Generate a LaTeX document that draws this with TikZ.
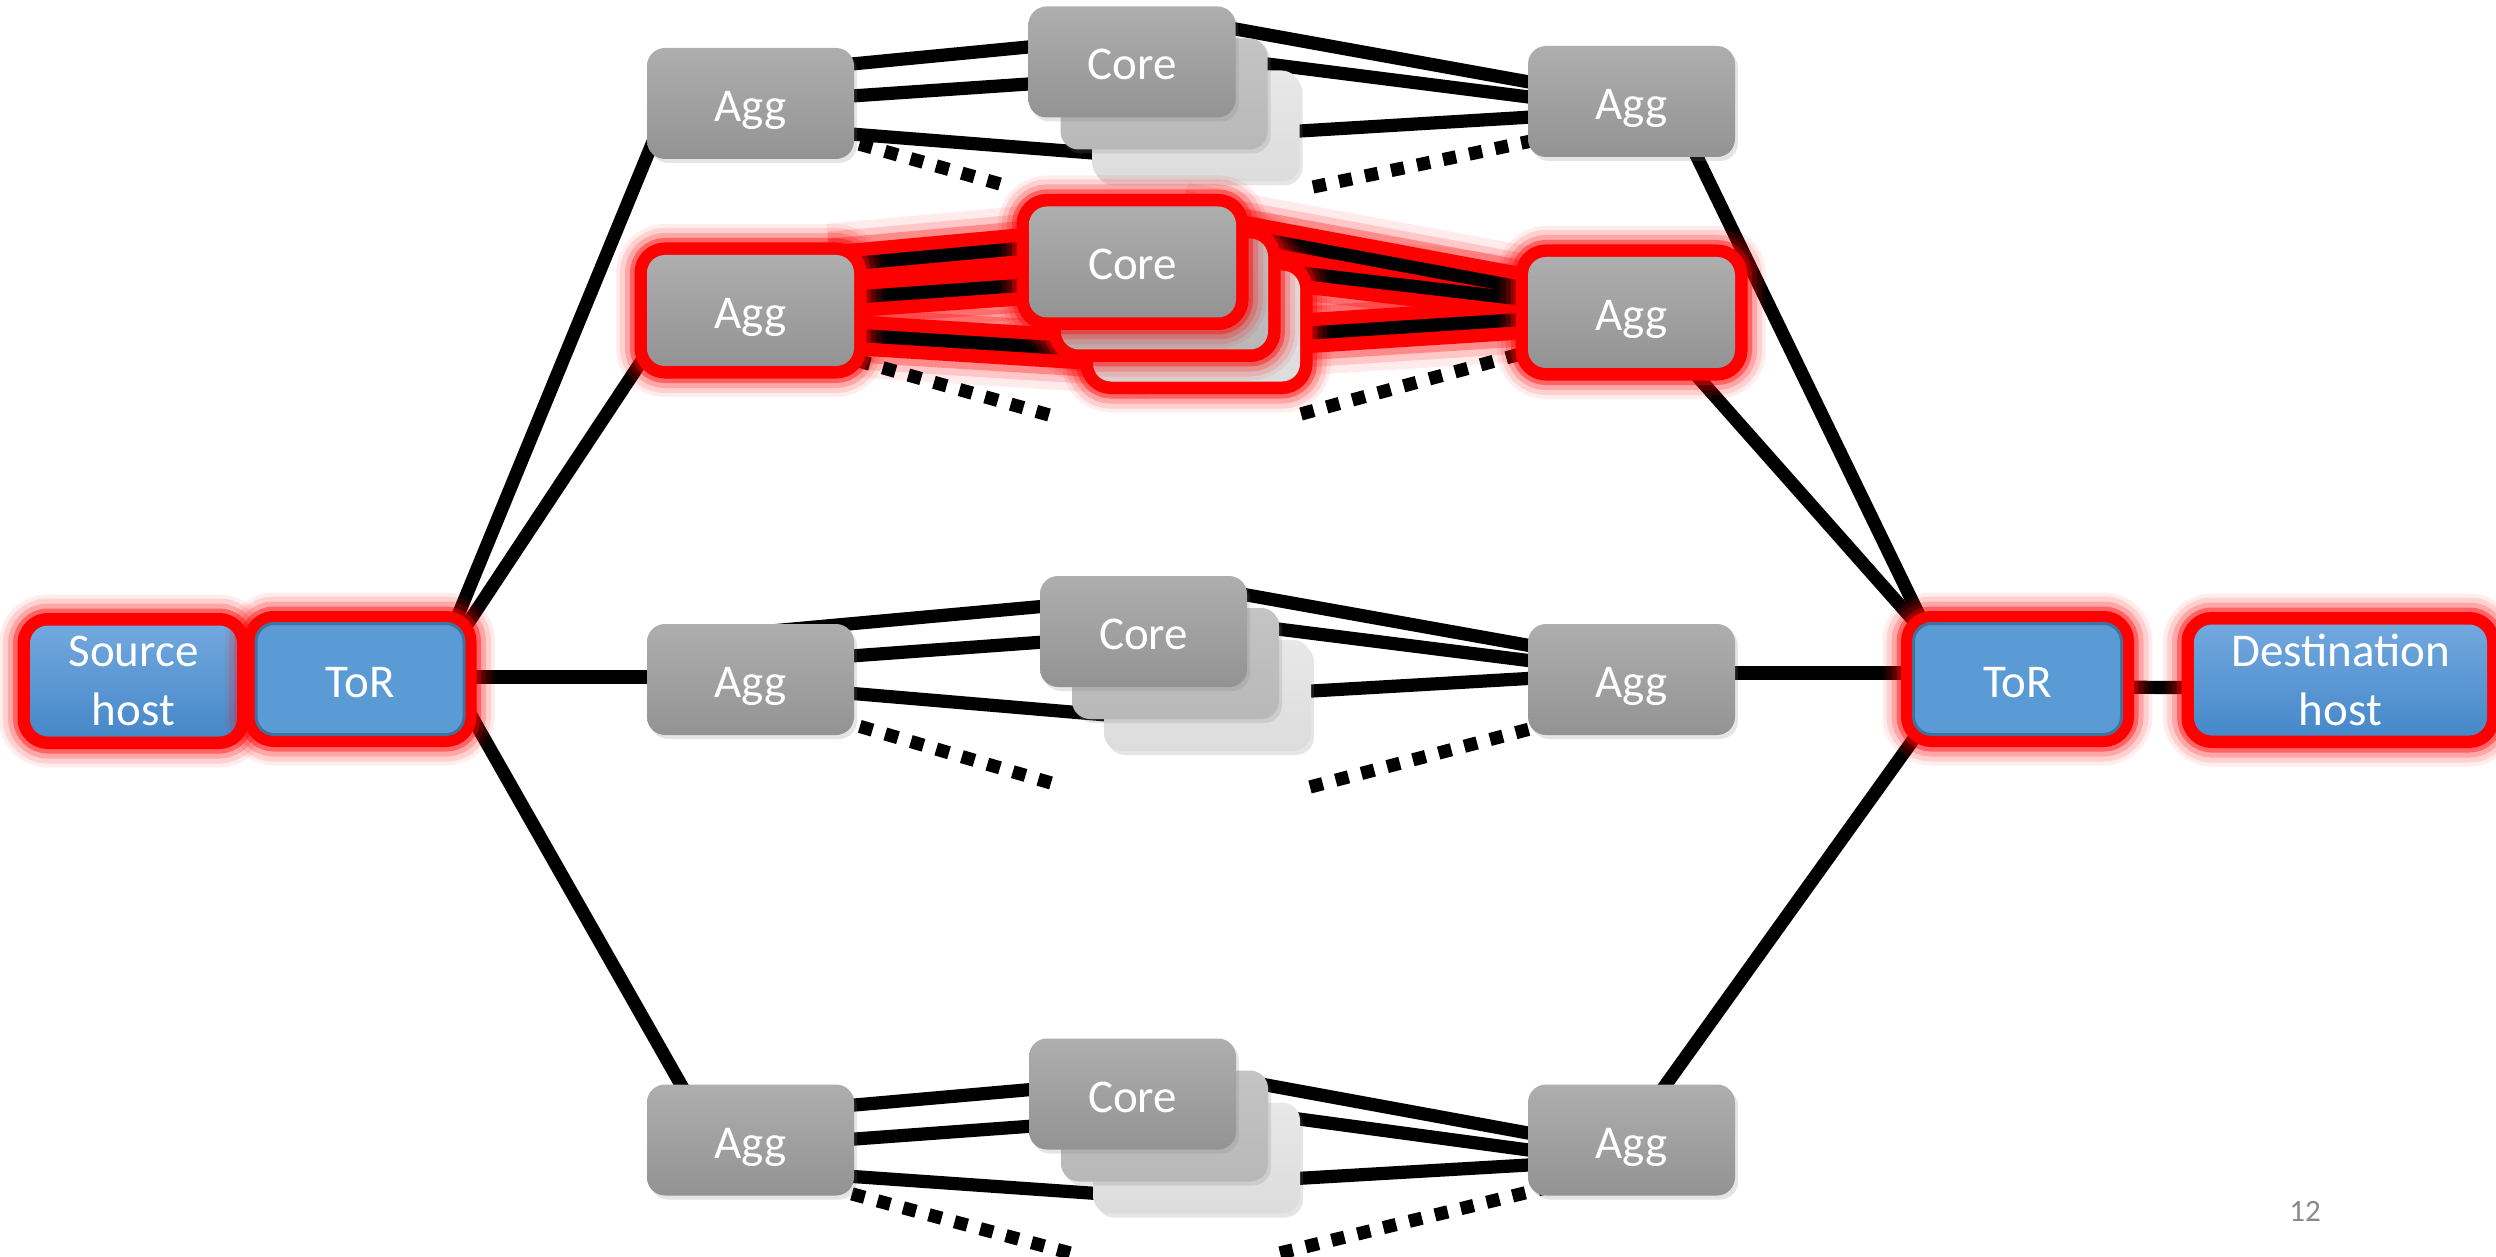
\documentclass[tikz,border=0pt]{standalone}
\usepackage{fontspec}
\setmainfont{Carlito}
\usetikzlibrary{calc,shadows}
\pgfdeclarelayer{paper}
\pgfdeclarelayer{lglow}
\pgfdeclarelayer{links}
\pgfsetlayers{paper,lglow,links,main}
\definecolor{aggtop}{RGB}{174,174,174}
\definecolor{aggbot}{RGB}{147,147,147}
\definecolor{midtop}{RGB}{196,196,196}
\definecolor{midbot}{RGB}{184,184,184}
\definecolor{backtop}{RGB}{232,232,232}
\definecolor{backbot}{RGB}{220,220,220}
\definecolor{torfill}{RGB}{91,155,213}
\definecolor{torline}{RGB}{65,113,156}
\definecolor{hosttop}{RGB}{114,168,222}
\definecolor{hostbot}{RGB}{70,136,201}
\definecolor{glowred}{RGB}{255,0,0}
\definecolor{pagegray}{RGB}{137,137,137}
\newcommand\rowtwopaths[1]{%
  \draw[#1] ($(aL2.center)+(80,-44.9)$) -- ($(c2a.center)+(-52.5,-19)$);
  \draw[#1] ($(aL2.center)+(80,-11.7)$) -- ($(c2a.center)+(-52.5,19.3)$);
  \draw[#1] ($(aL2.center)+(80,23.2)$) -- ($(c2c.center)+(-46.5,27.6)$);
  \draw[#1] ($(c2a.center)+(47.5,-38)$) -- ($(aR2.center)+(0,-4.5)$);
  \draw[#1] ($(c2b.center)+(55.5,-30.4)$) -- ($(aR2.center)+(0,-0.5)$);
  \draw[#1] ($(c2c.center)+(53.5,10.8)$) -- ($(aR2.center)+(0,0)$);
}
\begin{document}
\begin{tikzpicture}[x=0.5pt,y=-0.5pt,
  box/.style={rectangle, rounded corners=9pt, inner sep=0pt, minimum height=55.5pt,
    minimum width=103.5pt, text=white, align=center, font=\fontsize{23.5}{29.5}\selectfont},
  oneline/.style={text height=18pt, text depth=0pt},
  softshadow/.style={drop shadow={opacity=0.2, shadow xshift=1.5pt, shadow yshift=-2pt}},
  redglow/.style={
    preaction={draw=glowred, draw opacity=0.07, line width=31pt},
    preaction={draw=glowred, draw opacity=0.12, line width=27pt},
    preaction={draw=glowred, draw opacity=0.2, line width=22pt},
    preaction={draw=glowred, draw opacity=0.4, line width=17pt},
    preaction={draw=glowred, line width=12.5pt}},
  aggbox/.style={box, oneline, top color=aggtop, bottom color=aggbot},
  corefront/.style={box, oneline, top color=aggtop, bottom color=aggbot},
  coremid/.style={box, top color=midtop, bottom color=midbot},
  coreback/.style={box, top color=backtop, bottom color=backbot},
  torbox/.style={box, oneline, minimum width=104pt, fill=torfill, draw=torline, line width=1.5pt},
  hostbox/.style={box, top color=hosttop, bottom color=hostbot},
  link/.style={line width=6.6pt, black},
  dots/.style={line width=6.6pt, black, dash pattern=on 6.6pt off 6.7pt},
  lg1/.style={line width=42pt, glowred, opacity=0.08},
  lg2/.style={line width=34pt, glowred, opacity=0.15},
  lg3/.style={line width=27pt, glowred, opacity=0.3},
  lg4/.style={line width=20pt, glowred},
]
\begin{pgfonlayer}{paper}
\fill[white] (0,0) rectangle (2496,1257);
\end{pgfonlayer}
\useasboundingbox (0,0) rectangle (2496,1257);

% ---------- cores (back to front) ----------
\node[coreback, softshadow] (c1c) at (1196,126) {};
\node[coremid, softshadow] (c1b) at (1164,94) {};
\node[corefront, softshadow] (c1a) at (1132,62) {Core};

\node[coreback, redglow] (c2c) at (1196.5,326) {};
\node[coremid, redglow] (c2b) at (1164.5,294) {};
\node[corefront, redglow] (c2a) at (1132.5,262) {Core};

\node[coreback, softshadow] (c3c) at (1207.5,695.5) {};
\node[coremid, softshadow] (c3b) at (1175.5,663.5) {};
\node[corefront, softshadow] (c3a) at (1143.5,631.5) {Core};

\node[coreback, softshadow] (c4c) at (1196.5,1158) {};
\node[coremid, softshadow] (c4b) at (1164.5,1126) {};
\node[corefront, softshadow] (c4a) at (1132.5,1094) {Core};

% ---------- aggs ----------
\node[aggbox, softshadow] (aL1) at (750.5,103.5) {Agg};
\node[aggbox, softshadow] (aR1) at (1631.5,101.5) {Agg};
\node[aggbox, redglow] (aL2) at (750.5,310.5) {Agg};
\node[aggbox, redglow] (aR2) at (1631.5,312.5) {Agg};
\node[aggbox, softshadow] (aL3) at (750.5,679.5) {Agg};
\node[aggbox, softshadow] (aR3) at (1631.5,679.5) {Agg};
\node[aggbox, softshadow] (aL4) at (750.5,1140) {Agg};
\node[aggbox, softshadow] (aR4) at (1631.5,1140) {Agg};

% ---------- hosts and ToRs ----------
\node[hostbox, redglow] (src) at (133.5,681) {Source\\host};
\node[torbox, redglow] (torL) at (360,679) {ToR};
\node[torbox, redglow] (torR) at (2017.5,679) {ToR};
\node[hostbox, redglow, minimum width=146.5pt] (dst) at (2340.5,680) {Destination\\host};

\node[text=pagegray, font=\fontsize{15.5}{18}\selectfont] (pg) at (2305,1211) {12};

% free ends of dotted links
\coordinate (dL1) at (1000,184);
\coordinate (dR1) at (1313,187);
\coordinate (dL2) at (1049,415);
\coordinate (dR2) at (1301,414);
\coordinate (dL3) at (1051,783);
\coordinate (dR3) at (1310,787);
\coordinate (dL4) at (1070,1253);
\coordinate (dR4) at (1280,1253);

% ---------- glow of highlighted links ----------
\begin{pgfonlayer}{lglow}
  \rowtwopaths{lg1}
  \rowtwopaths{lg2}
  \rowtwopaths{lg3}
  \rowtwopaths{lg4}
\end{pgfonlayer}

% ---------- links ----------
\begin{pgfonlayer}{links}
  % row 1
  \draw[link] ($(aL1.center)+(49.5,-34.5)$) -- ($(c1a.center)+(-52,-20)$);
  \draw[link] ($(aL1.center)+(49.5,-4)$) -- ($(c1a.center)+(-52,18.5)$);
  \draw[link] ($(aL1.center)+(49.5,26.5)$) -- ($(c1c.center)+(-46,31.5)$);
  \draw[link] ($(c1a.center)+(48,-43)$) -- ($(aR1.center)+(0,-1)$);
  \draw[link] ($(c1b.center)+(56,-36)$) -- ($(aR1.center)+(0,8.5)$);
  \draw[link] ($(c1c.center)+(54,8)$) -- ($(aR1.center)+(0,9.5)$);
  % row 2
  \rowtwopaths{link}
  % row 3
  \draw[link] ($(aL3.center)+(9.5,-47.5)$) -- ($(c3a.center)+(-63.5,-28.5)$);
  \draw[link] ($(aL3.center)+(49.5,-19.8)$) -- ($(c3a.center)+(-63.5,7.9)$);
  \draw[link] ($(aL3.center)+(49.5,9.5)$) -- ($(c3c.center)+(-57.5,23.2)$);
  \draw[link] ($(c3a.center)+(46.5,-46.7)$) -- ($(aR3.center)+(0,-15.7)$);
  \draw[link] ($(c3b.center)+(54.5,-40.5)$) -- ($(aR3.center)+(0,-6)$);
  \draw[link] ($(c3c.center)+(52.5,-1.5)$) -- ($(aR3.center)+(0,-7)$);
  % row 4
  \draw[link] ($(aL4.center)+(49.5,-30.2)$) -- ($(c4a.center)+(-52.5,-8.8)$);
  \draw[link] ($(aL4.center)+(49.5,3)$) -- ($(c4a.center)+(-52.5,28.6)$);
  \draw[link] ($(aL4.center)+(49.5,32.8)$) -- ($(c4c.center)+(-46.5,39.2)$);
  \draw[link] ($(c4a.center)+(57.5,-23)$) -- ($(aR4.center)+(0,12)$);
  \draw[link] ($(c4c.center)+(53.5,-45.6)$) -- ($(aR4.center)+(0,23.9)$);
  \draw[link] ($(c4c.center)+(53.5,23.2)$) -- ($(aR4.center)+(0,19)$);
  % ToR to Agg
  \draw[link] ($(torL.center)+(78,-15)$) -- ($(aL1.center)+(-86.5,11.5)$);
  \draw[link] ($(torL.center)+(81,-15)$) -- ($(aL2.center)+(-95,29.5)$);
  \draw[link] ($(torL.center)+(80,-2)$) -- ($(aL3.center)+(-80,-2.5)$);
  \draw[link] ($(torL.center)+(96.6,11)$) -- ($(aL4.center)+(-60.8,-40)$);
  \draw[link] ($(aR1.center)+(57.3,38.5)$) -- ($(torR.center)+(-76.7,-19)$);
  \draw[link] ($(aR2.center)+(46.9,42.5)$) -- ($(torR.center)+(-69,-19)$);
  \draw[link] ($(aR3.center)+(80,-6.5)$) -- ($(torR.center)+(-80,-6)$);
  \draw[link] ($(aR4.center)+(23.3,-40)$) -- ($(torR.center)+(-75.8,21)$);
  % hosts
  \draw[link] ($(src.center)+(80,8)$) -- ($(torL.center)+(-80,8)$);
  \draw[link] ($(torR.center)+(80,8)$) -- ($(dst.center)+(-100,8)$);
  % dotted links (drawn from the free end so that it ends on a full dash)
  \draw[dots] (dL1) -- ($(aL1.center)+(94.5,36.5)$);
  \draw[dots] (dR1) -- ($(aR1.center)+(-93,38)$);
  \draw[dots] (dL2) -- ($(aL2.center)+(94.5,46.5)$);
  \draw[dots] (dR2) -- ($(aR2.center)+(-96.5,37.5)$);
  \draw[dots] (dL3) -- ($(aL3.center)+(94.5,42.5)$);
  \draw[dots] (dR3) -- ($(aR3.center)+(-86.5,45.5)$);
  \draw[dots] (dL4) -- ($(aL4.center)+(94.5,52)$);
  \draw[dots] (dR4) -- ($(aR4.center)+(-86.5,48)$);
\end{pgfonlayer}
\end{tikzpicture}
\end{document}
